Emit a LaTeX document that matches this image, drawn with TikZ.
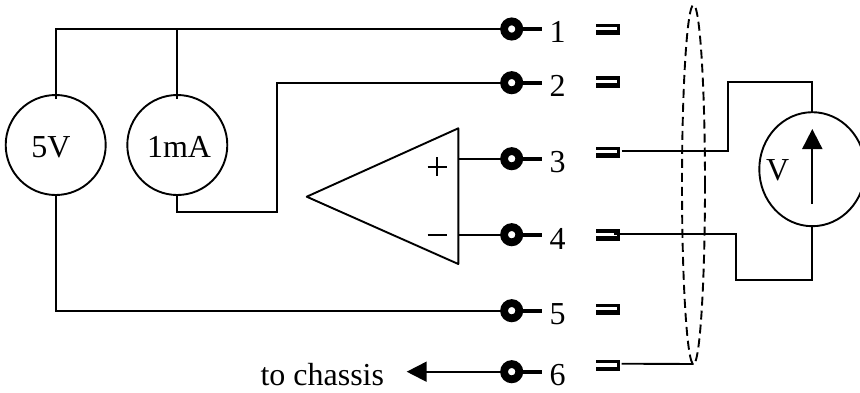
\documentclass[tikz,border=0pt]{standalone}
\usepackage{fontspec}
\setmainfont{Liberation Serif}
\usetikzlibrary{arrows.meta,shapes.geometric,calc}
\tikzset{
  wire/.style={line width=1.9pt,line join=miter},
  lbl/.style={anchor=base,inner sep=0pt,font=\fontsize{32}{36}\selectfont},
  source/.style={circle,draw,line width=1.9pt,minimum size=100pt,inner sep=0pt,outer sep=0pt},
  terminal/.style={circle,draw=black,fill=white,line width=7.8pt,minimum size=15.2pt,inner sep=0pt,outer sep=0pt},
  socket/.style={rectangle,fill=black,minimum width=24pt,minimum height=11.5pt,inner sep=0pt,outer sep=0pt,
    path picture={\fill[white] ([yshift=-3.5pt]path picture bounding box.north west) rectangle ([xshift=-3.2pt,yshift=4.8pt]path picture bounding box.south east);}},
}
\begin{document}
\begin{tikzpicture}[x=1pt,y=-1pt]
\clip (0,0) rectangle (860,392);
\fill[white] (0,0) rectangle (860,392);
% sources
\node[source] (vs) at (55.7,145) {};
\node[source] (is) at (177.3,145) {};
\node[lbl] (vsl) at (51,157.7) {5V};
\node[lbl] (isl) at (179,157.7) {1mA};
% terminals
\foreach \n/\y in {1/29,2/82.7,3/158.7,4/234.7,5/310.7,6/371.7}{
  \coordinate (e\n) at (542,\y);
}
\node[terminal] (t1) at (511.7,29) {};
\node[terminal] (t2) at (511.7,82.7) {};
\node[terminal] (t3) at (511.7,158.7) {};
\node[terminal] (t4) at (511.7,234.7) {};
\node[terminal] (t5) at (511.7,310.7) {};
\node[terminal] (t6) at (511.7,371.7) {};
\foreach \n in {1,...,6}{\draw[line width=4pt] (t\n.east) -- (e\n);}
% labels
\node[lbl] (l1) at (557.5,42.7) {1};
\node[lbl] (l2) at (557.5,96) {2};
\node[lbl] (l3) at (557.5,172) {3};
\node[lbl] (l4) at (557.5,249) {4};
\node[lbl] (l5) at (557.5,324.3) {5};
\node[lbl] (l6) at (557.5,385) {6};
% sockets
\node[socket] (s1) at (608,29.3) {};
\node[socket] (s2) at (608,82) {};
\node[socket] (s3) at (608,152.3) {};
\node[socket] (s4) at (608,234.8) {};
\node[socket] (s5) at (608,309.5) {};
\node[socket] (s6) at (608,365.7) {};
% op amp
\coordinate (oa) at (306.7,196.7);
\coordinate (ob) at (458.3,128.3);
\coordinate (oc) at (458.3,264);
\draw[wire,line join=round] (oa) -- (ob) -- (oc) -- cycle;
\draw[line width=1.7pt] (427.5,166.7) -- (446.5,166.7) (437,157.2) -- (437,176.2);
\draw[line width=1.7pt] (427.5,234.7) -- (446.5,234.7);
\draw[wire] (458.3,158.7) -- (t3);
\draw[wire] (458.3,234.7) -- (t4);
% left wiring
\draw[wire] (vs.north) ++(0,4) -- (55.7,29) -- (t1);
\draw[wire] (is.north) ++(0,4) -- (177.3,29);
\draw[wire] (vs.south) ++(0,-1) -- (55.7,310.7) -- (t5);
\draw[wire] (is.south) -- (177.3,211.7) -- (276.7,211.7) -- (276.7,82.7) -- (t2);
% to chassis
\draw[wire,-{Triangle[length=20pt,width=20pt]}] (t6) -- (406.7,371.7);
\node[lbl] (ch) at (322.3,385) {to chassis};
% voltmeter
\node[ellipse,draw,line width=1.9pt,minimum width=106pt,minimum height=114pt,inner sep=0pt,outer sep=0pt] (vm) at (812.3,169.2) {};
\node[lbl] (vml) at (777.7,180) {V};
\coordinate (at) at (812.3,204);
\draw[wire,-{Triangle[length=20pt,width=20pt]}] (at) -- (812.3,129);
\coordinate (r3) at ([xshift=1.7pt]s3.east);
\draw[wire] (r3|-0,150.7) -- (728.3,150.7) -- (728.3,82.3) -- (812.3,82.3) -- (vm.north);
\draw[wire] (614,234) -- (736,234) -- (736,280) -- (812.3,280) -- (vm.south);
% shield
\node[ellipse,draw,dash pattern=on 9pt off 5pt,line width=1.9pt,minimum width=23pt,minimum height=359pt,inner sep=0pt,outer sep=0pt] (sh) at (693.5,184.5) {};
\draw[wire] ([xshift=1.7pt]s6.east |- 0,363.7) -- (sh.south);
\end{tikzpicture}
\end{document}
